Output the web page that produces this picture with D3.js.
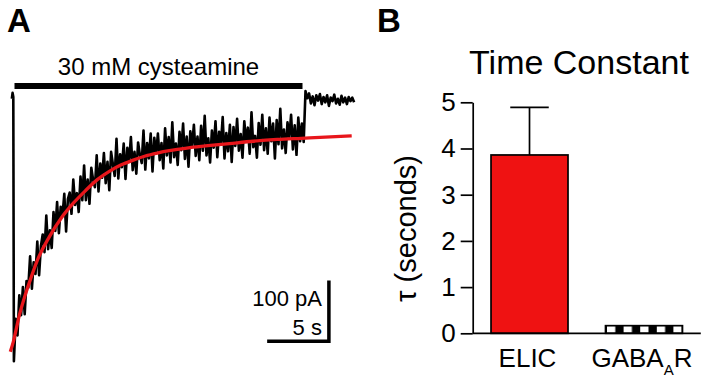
<!DOCTYPE html>
<html>
<head>
<meta charset="utf-8">
<script src="https://cdn.jsdelivr.net/npm/d3@7"></script>
<style>
  body { margin: 0; background: white; }
  svg { display: block; }
</style>
</head>
<body>
<div id="chart"></div>
<script>
const font = "'Liberation Sans', Arial, Helvetica, sans-serif"
const fitRed = "#e8161b"
const barRed = "#ef1212"

// panel A: whole-cell current (pA) against time (s)
const sampleInterval = 0.15
const preTimes = [-0.12, -0.06, 0]
const preTrace = [-3, 7, 0]
const appStart = 0.05
const appTrace = [
  -448, -376, -404, -336, -370, -322, -368, -312, -323, -270,
  -325, -280, -300, -245, -302, -253, -233, -263, -201, -258,
  -226, -256, -195, -227, -178, -231, -186, -201, -164, -228,
  -173, -162, -198, -140, -183, -163, -195, -135, -175, -116,
  -175, -140, -181, -120, -140, -153, -99, -160, -113, -137,
  -95, -146, -110, -158, -93, -114, -134, -71, -138, -97,
  -119, -79, -139, -86, -109, -68, -124, -93, -130, -77,
  -98, -112, -57, -123, -78, -104, -62, -126, -69, -96,
  -62, -107, -78, -121, -53, -99, -68, -111, -43, -102,
  -79, -115, -59, -90, -45, -105, -67, -118, -58, -83,
  -47, -100, -67, -107, -49, -91, -32, -99, -70, -111,
  -57, -86, -41, -102, -59, -80, -34, -104, -61, -92,
  -47, -110, -51, -83, -37, -91, -63, -103, -41, -76,
  -52, -96, -26, -85, -66, -103, -44, -81, -30, -90,
  -53, -96, -35, -75, -45, -104, -39, -80, -20, -87,
  -55, -95, -43, -68, -30, -89, -48, -98, -35, -75, -45
]
const washStart = 24.2
const washTrace = [
  -76, 10, -2, 6, -11, 1, -14, 3, -6, 5,
  -12, 0, -9, 3, -15, -1, -7, 4, -11, -3,
  -13, 2, -9, -1, -12, 0, -7, -1, -9
]

// single exponential fit
const fitTimes = [-0.25, 0, 0.5, 1, 1.5, 2, 3, 4, 5, 6, 7, 8, 9, 10, 11, 12, 13, 14, 15, 16, 18, 20, 22, 24, 26, 28.2]
const fitValues = [-432, -415, -370, -335, -305, -277, -237, -205, -180, -159, -140, -126, -115, -107, -100, -95, -91, -88, -85, -83, -79, -75, -72, -70, -68, -66]

const drugTimes = [0.1, 24.1]
const drugLabel = "30 mM cysteamine"
const scaleBarTime = 5      // s
const scaleBarCurrent = 100 // pA

// panel B: time constants
const categories = ["ELIC", "GABAAR"]
const tauMeans = [3.86, 0.165]
const tauErrors = [1.03, 0]
const yTicks = [0, 1, 2, 3, 4, 5]

const w = 710
const h = 382

const svg = d3.select('#chart').append('svg')
  .attr('width', w)
  .attr('height', h)
  .attr('viewBox', `0 0 ${w} ${h}`)

// ---------- panel A ----------
const xA = d3.scaleLinear().domain([0, 24]).range([13.3, 301.3])
const yA = d3.scaleLinear().domain([0, -448]).range([97, 361.3])

const tracePoints = [
  ...preTrace.map((v, i) => ({ t: preTimes[i], v: v })),
  ...appTrace.map((v, i) => ({ t: appStart + i * sampleInterval, v: v })),
  ...washTrace.map((v, i) => ({ t: washStart + i * sampleInterval, v: v }))
]

const traceLine = d3.line()
  .x(d => xA(d.t))
  .y(d => yA(d.v))

svg.append('path')
  .attr('d', traceLine(tracePoints))
  .attr('fill', 'none')
  .attr('stroke', 'black')
  .attr('stroke-width', 2.6)
  .attr('stroke-linejoin', 'round')

const fitLine = d3.line()
  .x(d => xA(d[0]))
  .y(d => yA(d[1]))
  .curve(d3.curveMonotoneX)

svg.append('path')
  .attr('d', fitLine(fitTimes.map((t, i) => [t, fitValues[i]])))
  .attr('fill', 'none')
  .attr('stroke', fitRed)
  .attr('stroke-width', 3.3)

// application bar
svg.append('line')
  .attr('x1', xA(drugTimes[0]))
  .attr('x2', xA(drugTimes[1]))
  .attr('y1', 86)
  .attr('y2', 86)
  .attr('stroke', 'black')
  .attr('stroke-width', 6)

svg.append('text')
  .attr('x', (xA(drugTimes[0]) + xA(drugTimes[1])) / 2)
  .attr('y', 75)
  .attr('text-anchor', 'middle')
  .style('font-family', font)
  .style('font-size', '24px')
  .text(drugLabel)

// scale bar
const sbT = 26.3
const sbI = -414
const sb = svg.append('g')
sb.append('path')
  .attr('d', `M${xA(sbT - scaleBarTime)},${yA(sbI)}H${xA(sbT)}V${yA(sbI + scaleBarCurrent)}`)
  .attr('fill', 'none')
  .attr('stroke', 'black')
  .attr('stroke-width', 3.5)
  .attr('stroke-linejoin', 'miter')
  .attr('stroke-linecap', 'square')

sb.append('text')
  .attr('x', xA(sbT) - 7)
  .attr('y', 306)
  .attr('text-anchor', 'end')
  .style('font-family', font)
  .style('font-size', '22px')
  .text(`${scaleBarCurrent} pA`)

sb.append('text')
  .attr('x', xA(sbT) - 7)
  .attr('y', 335)
  .attr('text-anchor', 'end')
  .style('font-family', font)
  .style('font-size', '22px')
  .text(`${scaleBarTime} s`)

// ---------- panel B ----------
const yB = d3.scaleLinear().domain([0, 5]).range([333.3, 102.3])
const xB = d3.scaleBand()
  .domain(categories)
  .range([472.7, 700.8])
  .paddingInner(0.3275)
  .paddingOuter(0.16)

const defs = svg.append('defs')
const pat = defs.append('pattern')
  .attr('id', 'checker')
  .attr('patternUnits', 'userSpaceOnUse')
  .attr('x', 607)
  .attr('y', 0)
  .attr('width', 16.6)
  .attr('height', 20)
pat.append('rect').attr('width', 16.6).attr('height', 20).attr('fill', 'white')
pat.append('rect').attr('x', 8.3).attr('width', 8.3).attr('height', 20).attr('fill', 'black')

const barData = categories.map((c, i) => ({ cat: c, mean: tauMeans[i], err: tauErrors[i] }))

// error bars (drawn under bars)
barData.filter(d => d.err > 0).forEach(d => {
  const cx = xB(d.cat) + xB.bandwidth() / 2
  svg.append('line')
    .attr('x1', cx).attr('x2', cx)
    .attr('y1', yB(d.mean)).attr('y2', yB(d.mean + d.err))
    .attr('stroke', 'black').attr('stroke-width', 1.7)
  svg.append('line')
    .attr('x1', cx - xB.bandwidth() / 4).attr('x2', cx + xB.bandwidth() / 4)
    .attr('y1', yB(d.mean + d.err)).attr('y2', yB(d.mean + d.err))
    .attr('stroke', 'black').attr('stroke-width', 1.7)
})

svg.selectAll('rect.bar')
  .data(barData).enter()
  .append('rect')
    .classed('bar', true)
    .attr('x', d => xB(d.cat))
    .attr('y', d => yB(d.mean))
    .attr('width', xB.bandwidth())
    .attr('height', d => yB(0) - yB(d.mean))
    .attr('fill', (d, i) => i == 0 ? barRed : 'url(#checker)')
    .attr('stroke', 'black')
    .attr('stroke-width', 1.7)

svg.append('g')
  .attr('transform', `translate(${xB.range()[0]},0)`)
  .call(d3.axisLeft(yB).tickValues(yTicks).tickFormat(d3.format('d'))
    .tickSize(12).tickSizeOuter(0).tickPadding(5))
  .call(g => g.select('.domain').attr('stroke-width', 1.7))
  .call(g => g.selectAll('.tick line').attr('stroke-width', 1.7))
  .call(g => g.selectAll('.tick text')
    .style('font-family', font)
    .style('font-size', '26px'))

svg.append('line')
  .attr('x1', xB.range()[0])
  .attr('x2', xB.range()[1])
  .attr('y1', yB(0))
  .attr('y2', yB(0))
  .attr('stroke', 'black')
  .attr('stroke-width', 1.7)

// category labels
const catText = svg.selectAll('text.cat')
  .data(categories).enter()
  .append('text')
    .classed('cat', true)
    .attr('x', d => xB(d) + xB.bandwidth() / 2 - 2)
    .attr('y', 366.7)
    .attr('text-anchor', 'middle')
    .style('font-family', font)
    .style('font-size', '26px')

catText.each(function (d) {
  const t = d3.select(this)
  if (d == "GABAAR") {
    t.append('tspan').text('GABA')
    t.append('tspan').attr('dy', 8).style('font-size', '15px').text('A')
    t.append('tspan').attr('dy', -8).text('R')
  } else {
    t.text(d)
  }
})

svg.append('text')
  .attr('transform', 'translate(416,228.5) rotate(-90)')
  .attr('text-anchor', 'middle')
  .style('font-family', font)
  .style('font-size', '29px')
  .text('τ (seconds)')

svg.append('text')
  .attr('x', 579)
  .attr('y', 74)
  .attr('text-anchor', 'middle')
  .style('font-family', font)
  .style('font-size', '34px')
  .text('Time Constant')

// panel letters
svg.append('text')
  .attr('x', 7)
  .attr('y', 32)
  .style('font-family', font)
  .style('font-size', '33px')
  .style('font-weight', 700)
  .text('A')

svg.append('text')
  .attr('x', 377)
  .attr('y', 31.5)
  .style('font-family', font)
  .style('font-size', '33px')
  .style('font-weight', 700)
  .text('B')
</script>
</body>
</html>
